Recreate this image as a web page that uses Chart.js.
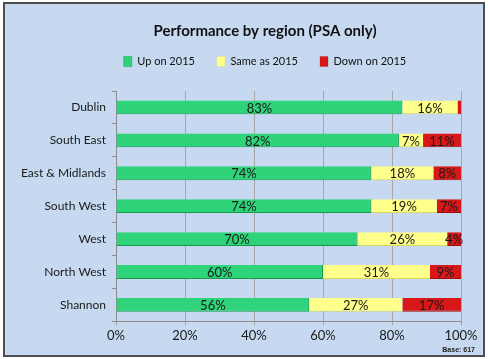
<!DOCTYPE html>
<html lang="en">
<head>
    <meta charset="UTF-8">
    <title>Performance by region</title>
    <script src="https://cdn.jsdelivr.net/npm/chart.js"></script>
    <style>
        body {
            margin: 0;
            background: white;
        }
        .frame {
            position: absolute;
            left: 3px;
            top: 2px;
            width: 478px;
            height: 351px;
            border: 2px solid #4d4d4d;
            background-color: #c6d9f0;
        }
        .base-note {
            position: absolute;
            right: 8px;
            bottom: 2px;
            font: bold 7px "Liberation Sans", Arial, sans-serif;
            color: #222;
        }
    </style>
</head>
<body>
    <div class="frame">
        <canvas id="regionChart" width="478" height="351"></canvas>
        <div class="base-note">Base: 617</div>
    </div>

    <script>
        const regions = ['Dublin', 'South East', 'East & Midlands', 'South West', 'West', 'North West', 'Shannon'];
        const upOn2015 = [83, 82, 74, 74, 70, 60, 56];
        const sameAs2015 = [16, 7, 18, 19, 26, 31, 27];
        const downOn2015 = [1, 11, 8, 7, 4, 9, 17];
        const xTicks = [0, 20, 40, 60, 80, 100];

        // labels in the middle of each segment
        const segmentLabels = {
            id: 'segmentLabels',
            afterDatasetsDraw(chart) {
                const ctx = chart.ctx;
                ctx.save();
                ctx.font = '13px Lato, "Open Sans", sans-serif';
                ctx.fillStyle = '#1a1a1a';
                ctx.textAlign = 'center';
                ctx.textBaseline = 'middle';
                chart.data.datasets.forEach((ds, i) => {
                    chart.getDatasetMeta(i).data.forEach((bar, j) => {
                        const v = ds.data[j];
                        if (v < 2) return;
                        const cx = (bar.x + bar.base) / 2;
                        ctx.fillText(v + '%', cx, bar.y + 1);
                    });
                });
                ctx.restore();
            }
        };

        // title and legend sit a bit right of the canvas centre, legend close under the title
        const headerShift = {
            id: 'headerShift',
            afterLayout(chart) {
                const t = chart.titleBlock;
                const l = chart.legend;
                t.left += 28; t.right += 28;
                l.left += 28; l.right += 28;
                l.top -= 14; l.bottom -= 14;
            }
        };

        new Chart(document.getElementById('regionChart'), {
            type: 'bar',
            data: {
                labels: regions,
                datasets: [
                    {
                        label: 'Up on 2015',
                        data: upOn2015,
                        backgroundColor: '#2fd37a',
                        borderColor: '#159a4c',
                        borderWidth: { top: 0, bottom: 1, left: 0, right: 1 },
                        borderSkipped: false
                    },
                    {
                        label: 'Same as 2015',
                        data: sameAs2015,
                        backgroundColor: '#ffff8c',
                        borderColor: '#d8d860',
                        borderWidth: { top: 0, bottom: 1, left: 0, right: 0 },
                        borderSkipped: false
                    },
                    {
                        label: 'Down on 2015',
                        data: downOn2015,
                        backgroundColor: '#d81818',
                        borderColor: '#9c0c0c',
                        borderWidth: { top: 0, bottom: 1, left: 0, right: 0 },
                        borderSkipped: false
                    }
                ]
            },
            plugins: [segmentLabels, headerShift],
            options: {
                indexAxis: 'y',
                responsive: false,
                animation: false,
                layout: {
                    padding: { left: 8, right: 22, top: 8, bottom: 8 }
                },
                datasets: {
                    bar: {
                        categoryPercentage: 1,
                        barPercentage: 0.42
                    }
                },
                scales: {
                    x: {
                        stacked: true,
                        min: 0,
                        max: 100,
                        afterBuildTicks(axis) {
                            axis.ticks = xTicks.map(v => ({ value: v }));
                        },
                        ticks: {
                            callback: v => v + '%',
                            color: '#1a1a1a',
                            font: { family: 'Lato, "Open Sans", sans-serif', size: 13 },
                            padding: 3
                        },
                        grid: {
                            color: '#a6a6a6',
                            tickLength: 4
                        },
                        border: { color: '#8c8c8c' }
                    },
                    y: {
                        stacked: true,
                        afterFit(axis) {
                            axis.width = 103;
                        },
                        ticks: {
                            color: '#1a1a1a',
                            font: { family: 'Lato, "Open Sans", sans-serif', size: 12 },
                            padding: 6
                        },
                        grid: {
                            offset: true,
                            drawOnChartArea: false,
                            color: '#8c8c8c',
                            tickLength: 4
                        },
                        border: { color: '#8c8c8c' }
                    }
                },
                plugins: {
                    title: {
                        display: true,
                        text: 'Performance by region (PSA only)',
                        color: '#111',
                        font: { family: 'Lato, "Open Sans", sans-serif', size: 15, weight: 'bold' },
                        padding: { top: 10, bottom: 8 }
                    },
                    legend: {
                        position: 'top',
                        labels: {
                            boxWidth: 8,
                            boxHeight: 10,
                            padding: 22,
                            color: '#111',
                            font: { family: 'Lato, "Open Sans", sans-serif', size: 11 }
                        }
                    },
                    tooltip: { enabled: false }
                }
            }
        });
    </script>
</body>
</html>
